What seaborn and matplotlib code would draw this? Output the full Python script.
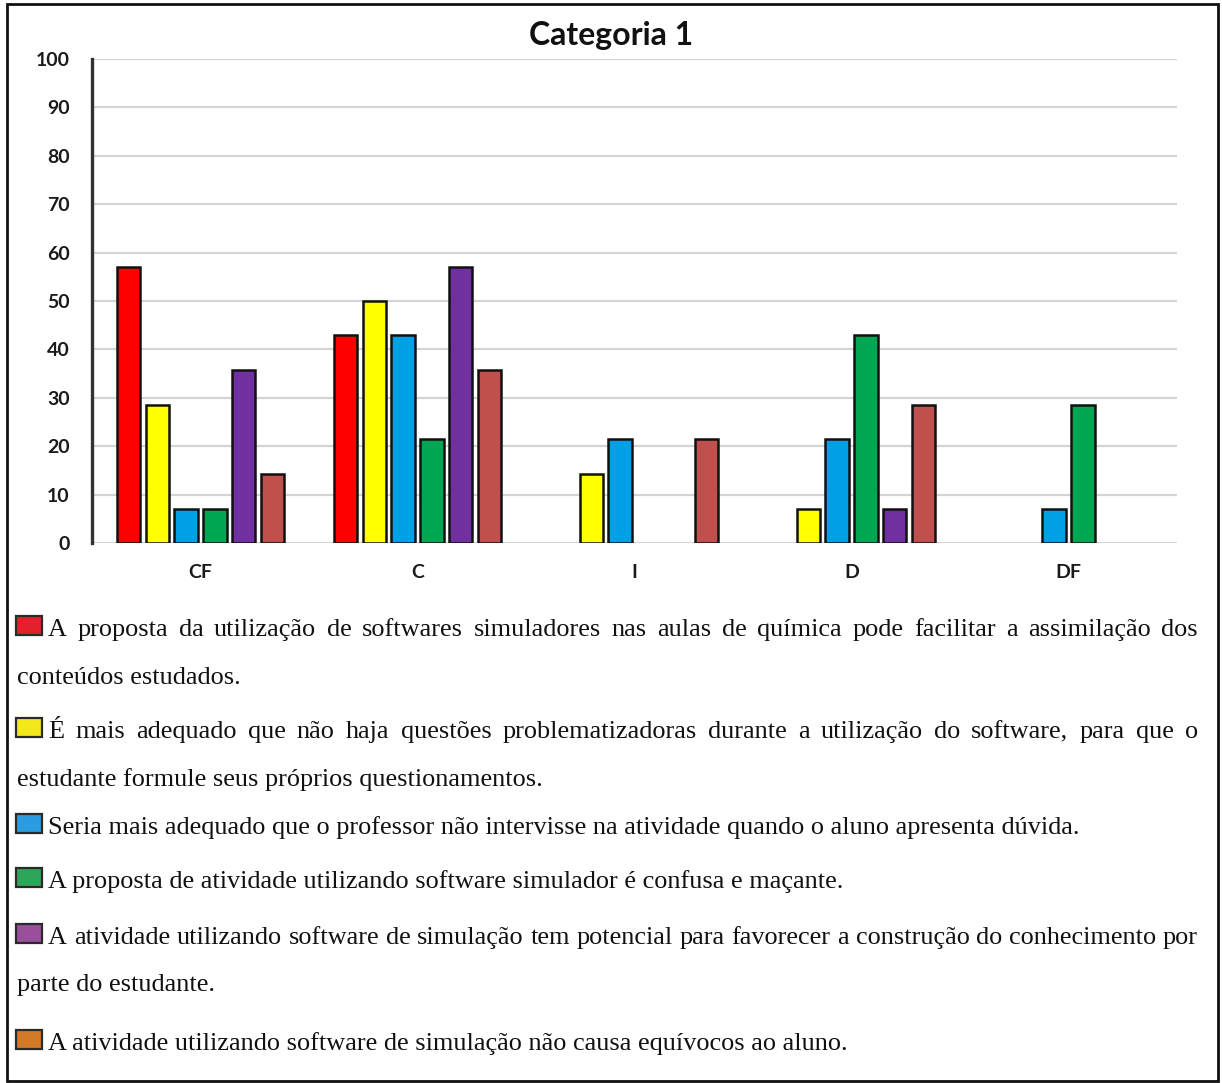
import matplotlib
matplotlib.use("Agg")
import matplotlib.pyplot as plt
from matplotlib.patches import Rectangle
import seaborn as sns
import pandas as pd

# ---------------- data ----------------
categories = ["CF", "C", "I", "D", "DF"]
series_names = ["S1", "S2", "S3", "S4", "S5", "S6"]
s1_values = [57.1, 42.9, 0.0, 0.0, 0.0]
s2_values = [28.6, 50.0, 14.3, 7.1, 0.0]
s3_values = [7.1, 42.9, 21.4, 21.4, 7.1]
s4_values = [7.1, 21.4, 0.0, 42.9, 28.6]
s5_values = [35.7, 57.1, 0.0, 7.1, 0.0]
s6_values = [14.3, 35.7, 21.4, 28.6, 0.0]
y_ticks = [0, 10, 20, 30, 40, 50, 60, 70, 80, 90, 100]
title_text = "Categoria 1"

legend_lines = [
    ["A proposta da utilização de softwares simuladores nas aulas de química pode facilitar a assimilação dos",
     "conteúdos estudados."],
    ["É mais adequado que não haja questões problematizadoras durante a utilização do software, para que o",
     "estudante formule seus próprios questionamentos."],
    ["Seria mais adequado que o professor não intervisse na atividade quando o aluno apresenta dúvida."],
    ["A proposta de atividade utilizando software simulador é confusa e maçante."],
    ["A atividade utilizando software de simulação tem potencial para favorecer a construção do conhecimento por",
     "parte do estudante."],
    ["A atividade utilizando software de simulação não causa equívocos ao aluno."],
]

bar_colors = ["#ff0000", "#ffff00", "#00a0e6", "#00a651", "#7030a0", "#c0504d"]
legend_colors = ["#e3202b", "#f3e81c", "#2a9de0", "#2fa55a", "#9a4f9d", "#d27a26"]

all_values = [s1_values, s2_values, s3_values, s4_values, s5_values, s6_values]
rows = []
for name, vals in zip(series_names, all_values):
    for cat, v in zip(categories, vals):
        rows.append({"cat": cat, "serie": name, "val": v})
df = pd.DataFrame(rows)

# ---------------- style ----------------
sns.set_style("white")
plt.rcParams["font.family"] = ["Lato", "DejaVu Sans"]

W, H = 1222, 1083
fig = plt.figure(figsize=(W / 100, H / 100), dpi=100)
fig.patch.set_facecolor("white")

def fx(px):
    return px / W

def fy(py):
    return 1 - py / H

ax_left, ax_right, ax_top, ax_bottom = 92, 1177, 59, 543
ax = fig.add_axes([fx(ax_left), fy(ax_bottom), fx(ax_right - ax_left), (ax_bottom - ax_top) / H])

sns.barplot(data=df, x="cat", y="val", hue="serie", order=categories, hue_order=series_names,
            palette=bar_colors, saturation=1, width=0.8, gap=0.2, edgecolor="#111111",
            linewidth=1.8, legend=False, errorbar=None, ax=ax)
for p in ax.patches:
    if p.get_height() == 0:
        p.set_visible(False)

ax.set_xlim(-0.5, len(categories) - 0.5)
ax.set_ylim(0, 100)
ax.set_yticks(y_ticks)
ax.set_yticklabels([str(t) for t in y_ticks])
ax.set_xlabel("")
ax.set_ylabel("")
ax.yaxis.grid(True, color="#d4d4d4", linewidth=1.6)
ax.xaxis.grid(False)
ax.set_axisbelow(True)
for s in ["top", "right", "bottom"]:
    ax.spines[s].set_visible(False)
ax.spines["left"].set_color("#333333")
ax.spines["left"].set_linewidth(2.4)
ax.tick_params(axis="y", length=0, pad=16, labelsize=14, labelcolor="#1a1a1a")
ax.tick_params(axis="x", length=0, pad=15, labelsize=14, labelcolor="#1a1a1a")
for lab in ax.get_yticklabels() + ax.get_xticklabels():
    lab.set_fontweight("bold")

fig.text(fx(611), fy(36), title_text, ha="center", va="center", fontsize=23,
         fontweight="bold", color="#111111")

# ---------------- legend (justified serif text) ----------------
renderer = fig.canvas.get_renderer()
serif = ["Liberation Serif", "DejaVu Serif"]

def text_width(s, size):
    t = fig.text(0, 0, s, fontsize=size, family=serif)
    w = t.get_window_extent(renderer).width
    t.remove()
    return w

# fit font size so the single-line blue statement spans its measured width
target_w = 1030
fs = 16 * target_w / text_width(legend_lines[2][0], 16)

first_x, other_x, right_x = 48, 17, 1198
baselines = [[636, 684], [738, 786], [834], [888], [944, 991], [1050]]

def draw_line(text, x0, x1, y, justify):
    if not justify:
        fig.text(fx(x0), fy(y), text, fontsize=fs, family=serif, color="#111111",
                 ha="left", va="baseline")
        return
    words = text.split(" ")
    widths = [text_width(w, fs) for w in words]
    gap = (x1 - x0 - sum(widths)) / (len(words) - 1)
    x = x0
    for w, wd in zip(words, widths):
        fig.text(fx(x), fy(y), w, fontsize=fs, family=serif, color="#111111",
                 ha="left", va="baseline")
        x += wd + gap

for i, lines in enumerate(legend_lines):
    b0 = baselines[i][0]
    fig.patches.append(Rectangle((fx(16), fy(b0 - 1)), fx(26), 19 / H,
                                 transform=fig.transFigure, facecolor=legend_colors[i],
                                 edgecolor="#2a2a2a", linewidth=1.6))
    for j, line in enumerate(lines):
        x0 = first_x if j == 0 else other_x
        justify = (len(lines) > 1 and j == 0)
        draw_line(line, x0, right_x, baselines[i][j], justify)

# outer frame
fig.patches.append(Rectangle((fx(7), fy(1081)), fx(1211), (1081 - 4) / H,
                             transform=fig.transFigure, fill=False,
                             edgecolor="#111111", linewidth=2))

fig.savefig("out.png", dpi=100, facecolor="white")
